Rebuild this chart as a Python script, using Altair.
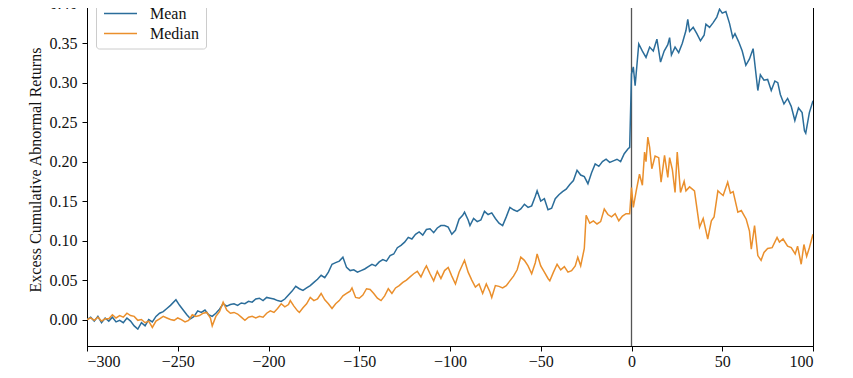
import altair as alt
import pandas as pd

mean_x = [-300, -298, -296, -294, -292, -290, -288, -286, -284, -282, -280, -278, -276, -274, -272, -270,
          -268, -266, -264, -262, -260, -258, -256, -254, -251, -249, -247, -245, -243, -241, -239, -237,
          -235, -233, -231, -229, -227, -225, -223, -221, -219, -217, -215, -213, -211, -209, -207, -205,
          -203, -201, -199, -197, -195, -193, -191, -189, -187, -185, -183, -181, -179, -177, -175, -173,
          -171, -169, -167, -165, -163, -161, -159, -157, -155, -153, -151, -149, -147, -145, -143, -141,
          -139, -137, -135, -133, -131, -129, -127, -125, -123, -121, -119, -117, -115, -113, -111, -109,
          -107, -105, -103, -101, -99, -97, -95, -93, -92, -90, -89, -87, -85, -83, -81, -79, -77, -75,
          -73, -71, -69, -67, -65, -63, -61, -59, -57, -55, -53, -52, -50, -48, -46, -44, -42, -40, -38,
          -36, -34, -32, -30, -28, -26, -24, -22, -20, -18, -16, -14, -12, -10, -8, -6, -4, -2, -1,
          0, 1, 2, 4, 6, 8, 10, 12, 14, 16, 18, 20, 21, 22, 24, 26, 28, 30, 31, 32, 34, 36, 38, 40, 41,
          43, 45, 47, 48.5, 50, 52, 54, 55.8, 57, 59, 61, 63, 65, 67, 69.6, 71, 73, 75, 77, 79, 80.6, 82,
          84, 86, 88, 90, 92, 94, 95.3, 96, 98, 100]
mean_y = [0.000, 0.003, -0.002, 0.004, -0.004, 0.002, -0.002, 0.003, -0.003, -0.001, -0.004, 0.002, -0.002,
          -0.008, -0.012, -0.004, -0.008, 0.000, -0.003, 0.004, 0.008, 0.010, 0.014, 0.018, 0.025, 0.018,
          0.012, 0.006, 0.001, 0.004, 0.011, 0.009, 0.012, 0.006, 0.004, 0.008, 0.013, 0.020, 0.017, 0.019,
          0.020, 0.018, 0.021, 0.020, 0.023, 0.022, 0.026, 0.027, 0.024, 0.028, 0.027, 0.026, 0.024, 0.023,
          0.026, 0.031, 0.036, 0.042, 0.039, 0.037, 0.040, 0.043, 0.047, 0.051, 0.056, 0.053, 0.060, 0.070,
          0.072, 0.074, 0.079, 0.066, 0.062, 0.063, 0.060, 0.062, 0.064, 0.067, 0.070, 0.068, 0.073, 0.076,
          0.074, 0.081, 0.083, 0.091, 0.094, 0.098, 0.104, 0.102, 0.108, 0.111, 0.107, 0.114, 0.115, 0.110,
          0.116, 0.119, 0.119, 0.117, 0.108, 0.113, 0.127, 0.132, 0.136, 0.126, 0.119, 0.128, 0.124, 0.126,
          0.137, 0.133, 0.135, 0.128, 0.122, 0.119, 0.130, 0.142, 0.139, 0.137, 0.140, 0.146, 0.142, 0.144,
          0.156, 0.163, 0.150, 0.153, 0.139, 0.141, 0.153, 0.158, 0.162, 0.165, 0.171, 0.176, 0.189, 0.183,
          0.181, 0.172, 0.186, 0.197, 0.194, 0.200, 0.203, 0.199, 0.201, 0.203, 0.200, 0.210, 0.216, 0.218,
          0.311, 0.320, 0.296, 0.349, 0.340, 0.332, 0.345, 0.340, 0.355, 0.326, 0.340, 0.348, 0.357, 0.335,
          0.345, 0.338, 0.350, 0.366, 0.380, 0.365, 0.370, 0.362, 0.353, 0.360, 0.374, 0.370, 0.376, 0.383,
          0.393, 0.388, 0.390, 0.375, 0.357, 0.362, 0.352, 0.340, 0.322, 0.330, 0.343, 0.290, 0.310, 0.303,
          0.304, 0.290, 0.302, 0.300, 0.285, 0.273, 0.280, 0.270, 0.252, 0.268, 0.262, 0.239, 0.236, 0.262,
          0.277]

median_x = [-300, -298, -296, -294, -292, -290, -288, -286, -284, -282, -280, -278, -276, -274, -272, -270,
            -268, -266, -264, -262, -260, -258, -256, -254, -252, -250, -248, -246, -244, -242, -240, -238,
            -236, -234, -232, -231, -229, -227, -225, -223, -221, -219, -217, -215, -213, -211, -209, -207,
            -205, -203, -201, -199, -197, -195, -193, -191, -189, -188, -186, -184, -183, -181, -179, -177,
            -175, -173, -171, -169, -167, -165, -163, -161, -159, -157, -155, -154, -152, -150, -148, -146,
            -144, -142, -140, -138, -136, -134, -132, -130, -128, -126, -124, -122, -120, -118, -116, -114,
            -113, -111, -109, -107, -105, -103, -101, -99, -97, -95, -93, -92, -90, -88, -86, -84, -82, -80,
            -78, -77, -75, -73, -71, -69, -67, -65, -63, -61, -59, -57, -55, -53, -52, -50, -48, -46, -45,
            -43, -41, -39, -37, -35, -33, -31, -29.6, -28, -26, -25, -23, -21, -19, -17, -15, -13, -11, -9,
            -7, -5, -3, -1, 0, 1, 2.6, 4.4, 6, 7.2, 8, 9, 10, 11.2, 13, 15, 16.3, 18.2, 20, 21, 22.5, 24,
            25.2, 27, 29, 30, 32, 34.7, 37.5, 39.5, 42, 44, 45.5, 47.6, 49, 50.5, 53, 54.5, 56, 58.6, 60.5,
            63.2, 65, 66, 67.8, 69.6, 71.4, 73, 75, 77.5, 80.2, 81.5, 83.5, 86, 88, 90.2, 91.5, 93.5, 95,
            96.5, 98, 100]
median_y = [0.000, 0.002, -0.001, 0.003, -0.002, 0.001, 0.001, 0.006, 0.002, 0.005, 0.003, 0.008, 0.005,
            0.004, -0.001, 0.000, -0.004, -0.002, -0.010, -0.002, 0.001, 0.004, 0.002, 0.000, -0.001, 0.002,
            0.000, -0.003, -0.001, 0.006, 0.004, 0.005, 0.008, 0.009, 0.002, -0.008, 0.004, 0.010, 0.022,
            0.012, 0.008, 0.009, 0.007, 0.003, -0.001, 0.003, 0.004, 0.002, 0.004, 0.003, 0.008, 0.011,
            0.009, 0.014, 0.020, 0.016, 0.019, 0.024, 0.017, 0.011, 0.009, 0.015, 0.020, 0.028, 0.024, 0.026,
            0.033, 0.025, 0.020, 0.014, 0.020, 0.024, 0.030, 0.033, 0.036, 0.040, 0.028, 0.027, 0.031, 0.039,
            0.038, 0.033, 0.027, 0.024, 0.030, 0.039, 0.033, 0.040, 0.043, 0.047, 0.050, 0.054, 0.058, 0.061,
            0.054, 0.064, 0.068, 0.058, 0.049, 0.061, 0.052, 0.062, 0.066, 0.055, 0.045, 0.060, 0.070, 0.075,
            0.060, 0.050, 0.041, 0.045, 0.033, 0.045, 0.035, 0.028, 0.043, 0.042, 0.040, 0.043, 0.049, 0.055,
            0.063, 0.079, 0.075, 0.068, 0.058, 0.072, 0.083, 0.068, 0.060, 0.052, 0.049, 0.060, 0.070, 0.063,
            0.067, 0.060, 0.062, 0.068, 0.079, 0.068, 0.090, 0.132, 0.122, 0.125, 0.121, 0.124, 0.140, 0.133,
            0.130, 0.134, 0.125, 0.131, 0.134, 0.134, 0.167, 0.142, 0.163, 0.184, 0.170, 0.212, 0.200, 0.231,
            0.218, 0.191, 0.207, 0.205, 0.174, 0.208, 0.180, 0.205, 0.190, 0.161, 0.212, 0.161, 0.175, 0.163,
            0.168, 0.163, 0.117, 0.128, 0.102, 0.125, 0.130, 0.163, 0.160, 0.157, 0.174, 0.160, 0.162, 0.136,
            0.138, 0.127, 0.112, 0.089, 0.119, 0.081, 0.075, 0.085, 0.090, 0.091, 0.104, 0.098, 0.102, 0.093,
            0.091, 0.083, 0.093, 0.070, 0.095, 0.080, 0.091, 0.108]

series_names = ["Mean", "Median"]
series_colors = ["#2b6d9a", "#ea8f2c"]
x_ticks = [-300, -250, -200, -150, -100, -50, 0, 50, 100]
y_ticks = [0.00, 0.05, 0.10, 0.15, 0.20, 0.25, 0.30, 0.35, 0.40]
event_day = [0]

df = pd.concat([
    pd.DataFrame({"day": mean_x, "car": mean_y, "series": series_names[0]}),
    pd.DataFrame({"day": median_x, "car": median_y, "series": series_names[1]}),
])

FONT = "Liberation Serif"

x_scale = alt.Scale(domain=[-300, 100], nice=False, zero=False)
y_scale = alt.Scale(domain=[-0.0335, 0.4135], nice=False, zero=False)

lines = alt.Chart(df).mark_line(strokeWidth=1.5, clip=True).encode(
    x=alt.X("day:Q", scale=x_scale,
            axis=alt.Axis(values=x_ticks, format="d", title=None, grid=False,
                          labelFont=FONT, labelFontSize=16, labelPadding=2)),
    y=alt.Y("car:Q", scale=y_scale,
            axis=alt.Axis(values=y_ticks, format=".2f", title="Excess Cumulative Abnormal Returns",
                          grid=False, labelFont=FONT, labelFontSize=16, labelPadding=5,
                          titleFont=FONT, titleFontSize=16, titlePadding=6)),
    color=alt.Color("series:N", scale=alt.Scale(domain=series_names, range=series_colors),
                    legend=alt.Legend(title=None, orient="none", legendX=9, legendY=1.5,
                                      symbolType="M-1,0H2", symbolSize=484, symbolStrokeWidth=1.5,
                                      labelFont=FONT, labelFontSize=16, labelColor="#111",
                                      labelOffset=23, rowPadding=0, padding=7,
                                      fillColor="white", strokeColor="#cccccc", cornerRadius=3,
                                      offset=0)),
    order=alt.Order("day:Q"),
)

vline = alt.Chart(pd.DataFrame({"day": event_day})).mark_rule(color="#555555", strokeWidth=1.3).encode(
    x=alt.X("day:Q", scale=x_scale)
)

chart = alt.layer(vline, lines).properties(
    width=726, height=353,
    autosize=alt.AutoSizeParams(type="none"),
    padding={"left": 79, "top": -15, "right": 32, "bottom": 30},
).configure_view(
    stroke="black", strokeWidth=1
).configure_axis(
    labelFont=FONT, titleFont=FONT,
    labelColor="#111", titleColor="#111", titleFontWeight="normal",
    domainColor="black", tickColor="black", tickSize=5,
    domainWidth=1,
)

chart.save("out.html", embed_options={"renderer": "svg", "actions": False})
